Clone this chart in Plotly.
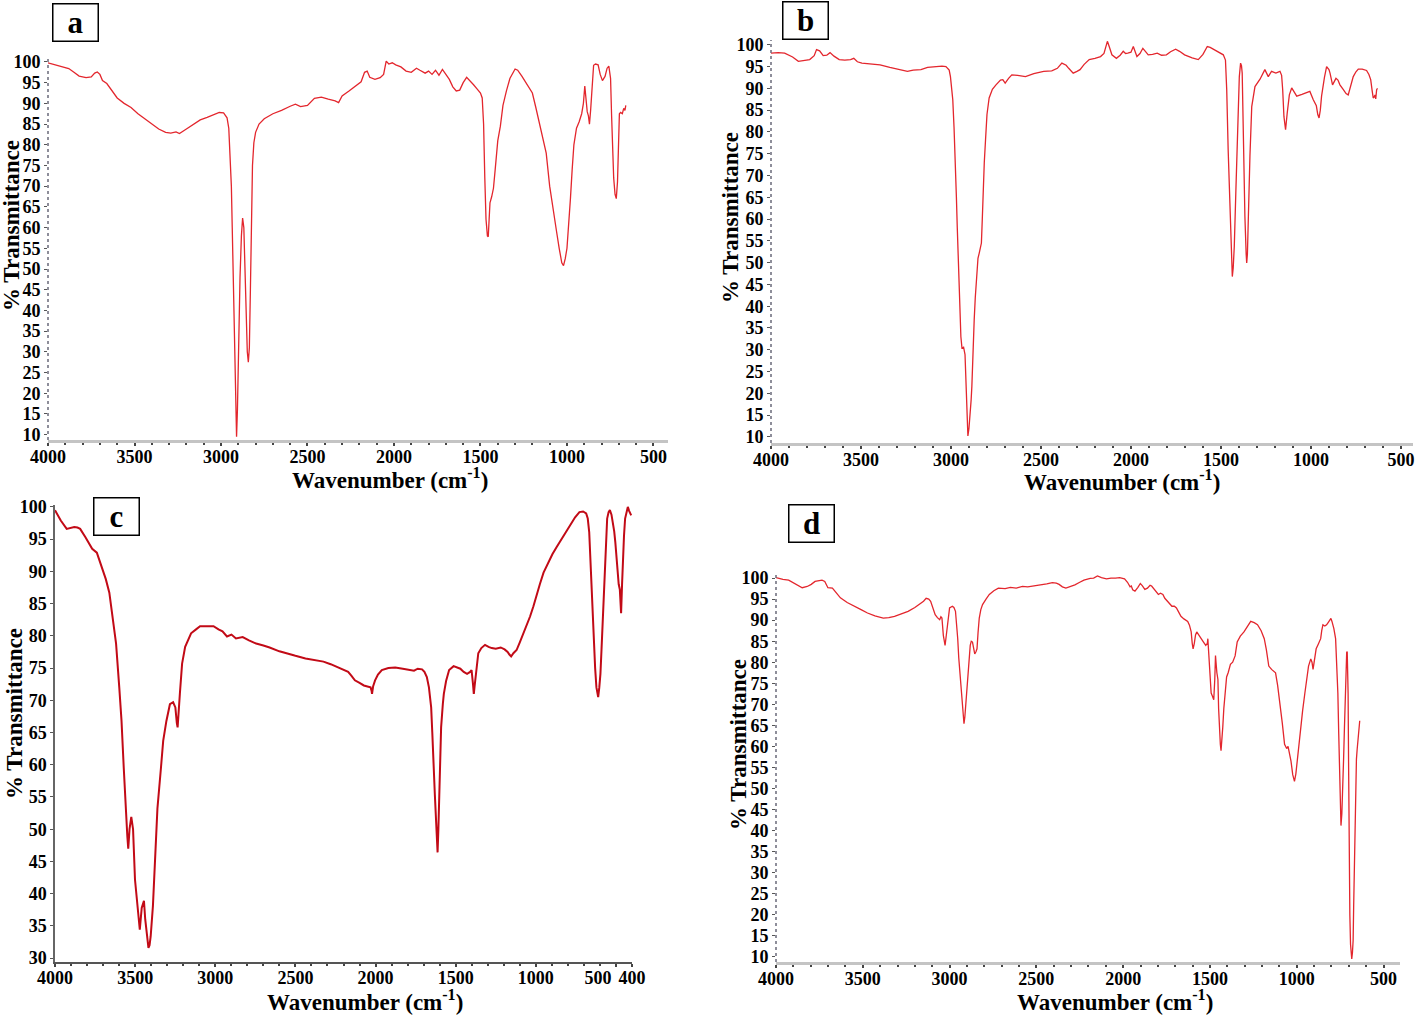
import plotly.graph_objects as go

# FTIR spectra, four samples (a-d): wavenumber (cm-1) vs % transmittance
wn_a = [4000, 3960, 3920, 3880, 3850, 3820, 3780, 3750, 3730, 3715, 3700, 3685, 3660, 3630, 3600,
        3560, 3520, 3480, 3440, 3400, 3360, 3320, 3290, 3260, 3240, 3200, 3160, 3120, 3080, 3040,
        3010, 2985, 2965, 2955, 2948, 2940, 2935, 2930, 2925, 2920, 2915, 2910, 2905, 2900, 2895,
        2890, 2882, 2875, 2868, 2862, 2855, 2848, 2842, 2836, 2830, 2825, 2818, 2810, 2800, 2780,
        2750, 2700, 2650, 2600, 2570, 2540, 2500, 2460, 2420, 2380, 2340, 2320, 2300, 2260, 2220,
        2190, 2170, 2155, 2140, 2110, 2080, 2060, 2045, 2030, 2010, 1990, 1960, 1930, 1900, 1870,
        1850, 1820, 1800, 1780, 1760, 1740, 1720, 1700, 1680, 1660, 1640, 1620, 1600, 1580, 1560,
        1540, 1520, 1500, 1490, 1482, 1475, 1468, 1460, 1455, 1450, 1445, 1435, 1425, 1415, 1400,
        1385, 1370, 1350, 1330, 1300, 1285, 1260, 1230, 1200, 1180, 1160, 1140, 1120, 1100, 1080,
        1060, 1045, 1030, 1020, 1010, 1000, 990, 980, 970, 960, 945, 930, 915, 905, 897,
        890, 883, 876, 870, 863, 855, 846, 835, 820, 808, 795, 780, 768, 758, 748,
        742, 736, 730, 722, 715, 708, 702, 697, 690, 680, 672, 665, 660]
t_a = [99.8, 99.3, 98.8, 98.4, 97.5, 96.6, 96.2, 96.4, 97.3, 97.6, 97.0, 95.5, 94.8, 93.0, 91.3,
       90.0, 89.0, 87.5, 86.2, 85.0, 83.8, 83.0, 82.8, 83.1, 82.7, 83.8, 85.0, 86.0, 86.6, 87.3,
       87.8, 87.7, 86.5, 84, 78, 70, 60, 50, 40, 28, 16, 9.5, 16, 30, 40,
       48, 58, 62.3, 60, 50, 38, 30, 27.5, 31, 45, 62, 75, 80.5, 83, 85,
       86.3, 87.5, 88.3, 89.3, 89.8, 89.2, 89.5, 91.2, 91.5, 91, 90.6, 90.2, 91.8, 93, 94.3,
       95.2, 97.5, 97.8, 96.3, 95.8, 96.2, 97, 100.2, 99.5, 99.8, 99.3, 98.8, 97.8, 97.5, 98.5,
       98.0, 97.3, 97.8, 97, 98, 96.8, 98.2, 97.0, 95.8, 94, 93, 93.2, 95, 96.3, 95.5,
       94.5, 93.5, 92.5, 91.3, 85, 72, 62, 58, 57.8, 62, 66, 67.5, 69.5, 74, 81,
       84.5, 89.5, 93, 96, 98.3, 98, 96.5, 94.5, 92.5, 89, 85.5, 82, 78, 70, 64,
       59, 55, 51.5, 50.8, 52.5, 55, 60, 67, 74, 80, 84, 85.5, 87.5, 90, 94.2,
       91, 88, 87, 85, 88.5, 94, 99.2, 99.5, 99.3, 97, 95.5, 96.5, 98.5, 99, 96,
       87, 79, 72, 68, 67, 71, 78, 87.5, 87.8, 87.5, 88.8, 88.3, 89.5]

wn_b = [4000, 3960, 3924, 3880, 3848, 3810, 3785, 3760, 3747, 3730, 3710, 3690, 3672, 3650, 3621,
        3590, 3558, 3540, 3520, 3495, 3450, 3394, 3340, 3293, 3260, 3242, 3210, 3167, 3130, 3091,
        3050, 3028, 3010, 3003, 2995, 2990, 2983, 2977, 2970, 2965, 2960, 2956, 2952, 2945, 2939,
        2930, 2922, 2918, 2914, 2910, 2906, 2900, 2894, 2888, 2884, 2878, 2871, 2865, 2856, 2850,
        2843, 2835, 2831, 2826, 2821, 2815, 2808, 2800, 2788, 2770, 2750, 2725, 2712, 2699, 2680,
        2662, 2630, 2586, 2540, 2485, 2440, 2409, 2384, 2360, 2346, 2321, 2300, 2283, 2260, 2232,
        2200, 2169, 2150, 2144, 2131, 2120, 2106, 2081, 2060, 2043, 2030, 2018, 2000, 1987, 1975,
        1967, 1950, 1934, 1920, 1904, 1880, 1854, 1830, 1803, 1780, 1752, 1730, 1702, 1660, 1626,
        1600, 1576, 1560, 1538, 1510, 1487, 1475, 1468, 1460, 1450, 1441, 1437, 1432, 1426, 1417,
        1409, 1398, 1391, 1386, 1382, 1376, 1367, 1360, 1357, 1353, 1348, 1339, 1329, 1311, 1283,
        1256, 1237, 1219, 1195, 1172, 1163, 1157, 1150, 1141, 1132, 1120, 1107, 1090, 1079, 1050,
        1020, 1006, 987, 970, 962, 955, 948, 941, 925, 913, 900, 894, 880, 870, 861,
        850, 839, 820, 805, 793, 780, 765, 750, 737, 715, 691, 678, 668, 660, 654,
        649, 644, 640, 635, 630]
t_b = [98.1, 98.2, 98.1, 97.2, 96.2, 96.5, 96.6, 97.5, 98.9, 98.6, 97.5, 97.6, 98.2, 97.4, 96.6,
       96.5, 96.6, 96.9, 96.1, 95.8, 95.6, 95.4, 94.8, 94.3, 94.0, 93.9, 94.2, 94.3, 94.8, 95.0,
       95.1, 95.0, 94.2, 92.7, 89.5, 87.4, 81, 75.2, 65.2, 58, 52.2, 46, 40, 33, 30.4,
       30.6, 28.9, 25, 21.6, 15, 10.2, 12, 14.8, 18.5, 21.6, 30, 36.9, 42, 47.6, 51,
       52.2, 54, 54.5, 60, 67.5, 73, 78.2, 84, 87.8, 89.8, 90.8, 91.9, 92.0, 91.2, 92.3,
       93.1, 93.0, 92.7, 93.4, 93.9, 94.0, 94.6, 95.8, 95.3, 94.6, 93.5, 93.9, 94.3, 95.5, 96.6,
       96.9, 97.3, 98.0, 98.9, 100.8, 99.5, 97.7, 96.9, 97.6, 98.5, 98.0, 98.1, 98.3, 99.6, 98.0,
       97.3, 98.0, 99.2, 98.5, 97.7, 97.8, 98.1, 97.6, 97.7, 98.4, 99.0, 98.5, 97.7, 97.0, 96.6,
       97.8, 99.6, 99.4, 98.9, 98.2, 97.7, 96.5, 89.7, 75.9, 61, 48.8, 46.8, 48.8, 53.7, 66.7,
       79, 92.7, 95.8, 95.2, 93.5, 78.2, 60.6, 52, 49.9, 52, 60.6, 74.4, 85.8, 90.4, 92.1,
       94.3, 92.7, 93.9, 93.5, 93.9, 93.0, 89.7, 83.5, 80.5, 84.3, 88.5, 90.1, 88.8, 88.2, 88.6,
       89.0, 89.3, 87.4, 86, 84, 83.2, 85, 88.2, 92.5, 95.0, 94.3, 93.5, 90.8, 91.5, 92.3,
       91.9, 90.8, 89.7, 88.8, 88.5, 90.5, 92.7, 93.8, 94.4, 94.4, 94.1, 93.2, 92, 89.5, 87.8,
       88, 88.5, 87.6, 89.7, 90]

wn_c = [4000, 3964, 3927, 3900, 3880, 3860, 3843, 3810, 3768, 3739, 3711, 3683, 3661, 3641, 3619,
        3599, 3585, 3571, 3557, 3549, 3543, 3535, 3524, 3513, 3501, 3487, 3478, 3471, 3459, 3445,
        3437, 3431, 3423, 3417, 3410, 3403, 3389, 3375, 3361, 3339, 3325, 3305, 3283, 3263, 3249,
        3240, 3235, 3221, 3207, 3188, 3151, 3120, 3095, 3050, 3011, 2980, 2955, 2927, 2899, 2871,
        2829, 2790, 2745, 2700, 2661, 2600, 2550, 2500, 2437, 2380, 2325, 2280, 2241, 2200, 2171,
        2150, 2129, 2100, 2073, 2045, 2031, 2025, 2022, 2015, 2003, 1985, 1961, 1920, 1877, 1830,
        1793, 1760, 1737, 1710, 1695, 1680, 1667, 1660, 1653, 1646, 1639, 1630, 1622, 1617, 1613,
        1608, 1602, 1596, 1591, 1580, 1574, 1560, 1541, 1513, 1490, 1471, 1450, 1429, 1410, 1401,
        1392, 1387, 1382, 1378, 1370, 1359, 1340, 1317, 1295, 1275, 1250, 1219, 1195, 1176, 1165,
        1154, 1140, 1120, 1100, 1078, 1057, 1036, 1015, 994, 975, 952, 925, 896, 870, 840,
        810, 784, 755, 728, 705, 686, 676, 667, 658, 650, 644, 639, 630, 622, 616,
        611, 604, 597, 590, 583, 576, 569, 562, 555, 546, 538, 528, 518, 511, 504,
        497, 490, 483, 476, 472, 468, 462, 457, 450, 443, 435, 426, 418, 412, 405]
t_c = [99.5, 97.9, 96.6, 96.8, 96.9, 96.8, 96.6, 95.3, 93.5, 92.9, 90.9, 88.8, 86.7, 83.0, 78.8,
       72.0, 66.8, 59.5, 51.1, 49, 47.0, 50, 51.9, 50, 42.2, 38.6, 36, 34.4, 37.8, 38.9,
       36, 34.4, 32.5, 31.6, 32, 33.4, 38.1, 45.9, 53.2, 59.5, 63.7, 66.8, 69.4, 69.7, 68.9,
       66.5, 65.8, 71.0, 75.7, 78.3, 80.4, 81.0, 81.5, 81.5, 81.5, 81.0, 80.7, 79.9, 80.2, 79.6,
       79.8, 79.3, 78.8, 78.5, 78.2, 77.6, 77.3, 76.9, 76.5, 76.2, 76.0, 75.6, 75.2, 74.8, 74.4,
       73.8, 73.1, 72.7, 72.3, 72.1, 72.0, 71.5, 71.0, 72.2, 73.1, 74.0, 74.7, 75.0, 75.1, 74.9,
       74.8, 74.6, 74.9, 74.8, 74.4, 73.6, 72.0, 70.5, 68.9, 65, 61.6, 55.3, 51.1, 48.5, 46.4,
       50, 55.3, 61, 65.8, 69.5, 71.0, 73, 74.7, 75.3, 75.1, 74.9, 74.4, 74.1, 74.4, 74.7,
       72.5, 71.0, 72.2, 73.1, 75, 77.3, 78.1, 78.6, 78.3, 78.1, 78.0, 78.2, 77.9, 77.5, 77.1,
       76.8, 77.3, 77.8, 79, 80.4, 81.5, 83.0, 84.6, 86.2, 88, 89.8, 91.3, 92.7, 93.8, 95.0,
       96.2, 97.4, 98.4, 99.2, 99.3, 99.0, 98.2, 96.1, 91, 86.7, 82, 78.8, 75, 72.0, 70.8,
       70.5, 72, 74.1, 78, 82.5, 87, 91.9, 95.5, 98.2, 99.2, 99.5, 98.8, 97.6, 96.2, 94.5,
       92, 89.3, 88, 87.2, 85.5, 83.5, 88, 91.9, 95.5, 98.2, 99.2, 100, 99.4, 99, 98.7]

wn_d = [4000, 3992, 3960, 3927, 3890, 3849, 3820, 3797, 3775, 3758, 3735, 3719, 3701, 3675, 3650,
        3629, 3590, 3551, 3510, 3473, 3430, 3382, 3350, 3317, 3280, 3239, 3200, 3174, 3150, 3135,
        3120, 3109, 3095, 3083, 3070, 3057, 3050, 3044, 3036, 3026, 3020, 3013, 3005, 3000, 2984,
        2975, 2966, 2960, 2953, 2947, 2940, 2934, 2927, 2921, 2917, 2912, 2906, 2900, 2896, 2888,
        2881, 2875, 2868, 2862, 2855, 2848, 2842, 2836, 2829, 2820, 2810, 2790, 2771, 2745, 2719,
        2680, 2650, 2616, 2580, 2550, 2512, 2470, 2440, 2408, 2385, 2369, 2350, 2330, 2310, 2278,
        2250, 2226, 2190, 2170, 2148, 2125, 2096, 2070, 2044, 2020, 1992, 1975, 1960, 1953, 1945,
        1932, 1915, 1901, 1890, 1875, 1860, 1845, 1836, 1820, 1810, 1797, 1785, 1771, 1760, 1745,
        1732, 1719, 1705, 1693, 1680, 1667, 1650, 1628, 1618, 1608, 1602, 1597, 1590, 1583, 1576,
        1565, 1550, 1537, 1524, 1515, 1512, 1508, 1504, 1499, 1493, 1486, 1478, 1472, 1468, 1465,
        1460, 1454, 1450, 1446, 1440, 1436, 1431, 1426, 1420, 1413, 1404, 1395, 1382, 1369, 1355,
        1343, 1325, 1304, 1285, 1265, 1245, 1226, 1205, 1187, 1175, 1161, 1145, 1122, 1110, 1096,
        1083, 1070, 1058, 1050, 1044, 1033, 1023, 1017, 1013, 1005, 997, 988, 979, 966, 953,
        942, 932, 919, 912, 906, 898, 888, 876, 862, 856, 849, 838, 828, 818, 810,
        803, 797, 786, 776, 769, 763, 758, 755, 750, 745, 740, 735, 730, 725, 721,
        717, 712, 709, 706, 704, 701, 699, 694, 690, 686, 683, 679, 675, 672, 668,
        664, 660, 656, 652, 647, 642, 637]
t_d = [100.1, 100, 99.7, 99.5, 98.7, 97.7, 98.0, 98.5, 99.2, 99.4, 99.5, 99.2, 97.7, 97.6, 96.2,
       95.3, 94.2, 93.3, 92.5, 91.7, 91.0, 90.5, 90.6, 90.9, 91.4, 92.1, 93.0, 93.7, 94.5, 95.2,
       95.0, 94.5, 92.8, 91.3, 90.6, 90.1, 90.8, 90.5, 86.4, 84.0, 86, 88.9, 91.5, 92.9, 93.3,
       93.0, 92.1, 89.5, 85.6, 81, 77.5, 73, 69.4, 67, 65.4, 67, 70.2, 74, 77.5, 81.5,
       84.0, 85, 84.8, 83.5, 82.0, 82.5, 83.2, 87, 90.5, 92.5, 93.7, 95, 96.1, 97, 97.6,
       97.5, 97.8, 97.6, 98, 97.9, 98.1, 98.3, 98.6, 98.9, 98.8, 98.5, 97.9, 97.6, 97.9, 98.4,
       99.0, 99.5, 99.9, 100.0, 100.5, 100.1, 99.8, 100.0, 100.0, 100.1, 99.8, 99.0, 97.9, 98.1, 97.2,
       96.9, 97.8, 98.7, 98.2, 97.3, 97.6, 98.3, 98.1, 97.3, 96.6, 96.1, 96.4, 96.1, 95.2, 94.5,
       93.8, 93.3, 93.3, 92.9, 91.9, 90.9, 90.3, 89.7, 88.8, 87.2, 84.5, 83.2, 84.5, 86.5, 87.2,
       86.6, 85.6, 84.8, 84.0, 84.5, 85.6, 83, 79.1, 76, 72.7, 72, 71.1, 76, 81.6, 80,
       77.5, 75.9, 69, 63.0, 60.5, 59.0, 61, 64.6, 69, 73.5, 76.5, 77.5, 79.5, 80.0, 81.5,
       84.8, 86.2, 87.2, 88.5, 89.7, 89.4, 88.9, 87.5, 85.6, 83, 79.1, 78.3, 77.5, 74.5, 70.2,
       65.5, 60.5, 59.5, 60, 58.9, 56.5, 53.3, 52.2, 51.7, 53.5, 56.5, 60.5, 64.6, 68.5, 72.7,
       76, 79.1, 80.8, 80, 78.3, 80.5, 83.2, 84.3, 85.6, 87.5, 88.9, 88.6, 88.9, 89.5, 90.1,
       90.4, 89.7, 88, 85.6, 80, 72.7, 63, 56.5, 48, 41.2, 44, 49.3, 57, 64.6, 72,
       80.8, 82.5, 82.4, 78, 72.7, 55, 31.5, 20, 13, 10, 9.5, 11, 13.9, 22, 33.4,
       45, 54.4, 57, 59.2, 62, 65.6, 66.1]

panel_labels = ["a", "b", "c", "d"]
x_title = "<b>Wavenumber (cm<sup>-1</sup>)</b>"
y_title = "<b>% Transmittance</b>"

W, H = 1417, 1022
SERIF = "Liberation Serif, Times New Roman, serif"


def px(x):
    return x / W


def py(y):
    return 1 - y / H


fig = go.Figure()

# (axis suffix, x data, y data, colour, width)
series = [
    ("", wn_a, t_a, "#e3262d", 1.3),
    ("2", wn_b, t_b, "#e3262d", 1.3),
    ("3", wn_c, t_c, "#c20a16", 2.0),
    ("4", wn_d, t_d, "#e3262d", 1.3),
]
for n, xs, ys, col, lw in series:
    fig.add_trace(go.Scatter(x=xs, y=ys, mode="lines", line=dict(color=col, width=lw),
                             xaxis="x" + n, yaxis="y" + n, showlegend=False))

# pixel boxes of each plot area: left, right, top, bottom
boxes = [(48, 668, 57, 440), (771, 1413, 40, 443), (55, 632, 505, 962), (776, 1400, 573, 962)]
xranges = [[4000, 416], [4000, 433], [4000, 400], [4000, 405]]
yranges = [[8.7, 101.2], [8.6, 101.1], [29.4, 100.3], [8.8, 101.2]]

tick_font = dict(family=SERIF, size=18, color="black", weight="bold")
layout = {}
for i, (l, r, t, b) in enumerate(boxes):
    n = "" if i == 0 else str(i + 1)
    is_c = i == 2
    xa = dict(domain=[px(l), px(r)], range=xranges[i], anchor="y" + n, automargin=False,
              showline=True, linecolor="#555" if is_c else "#c4c4c4", linewidth=1.5 if is_c else 2.5,
              ticks="outside", ticklen=3, tickcolor="#444", tickwidth=1.5,
              tickfont=tick_font, tickangle=0, showgrid=False, zeroline=False,
              minor=dict(ticks="outside", ticklen=2, tickcolor="#444", dtick=100, tick0=0),
              ticklabelstandoff=-4)
    if is_c:
        xa.update(tickmode="array",
                  tickvals=[4000, 3500, 3000, 2500, 2000, 1500, 1000, 500, 400],
                  ticktext=["4000", "3500", "3000", "2500", "2000", "1500", "1000",
                            "500" + "\u00a0" * 8, "400"])
    else:
        xa.update(tickmode="linear", tick0=0, dtick=500)
    ya = dict(domain=[py(b), py(t)], range=yranges[i], anchor="x" + n, automargin=False,
              showline=is_c, linecolor="#666", linewidth=1.5,
              ticks="outside", ticklen=3, tickcolor="#555", tickwidth=1,
              tickmode="linear", tick0=0, dtick=5, tickfont=tick_font,
              showgrid=False, zeroline=False, ticklabelstandoff=0)
    layout["xaxis" + n] = xa
    layout["yaxis" + n] = ya

fig.update_layout(**layout)

# dotted vertical axis lines for panels a, b, d
for n in ["", "2", "4"]:
    fig.add_shape(type="line", xref="x" + n + " domain", yref="y" + n + " domain",
                  x0=0, x1=0, y0=0, y1=1, line=dict(color="#6a6a7a", width=1.5, dash="dot"))

# axis titles and panel letters
x_title_pos = [(390, 478), (1122, 480), (365, 1000), (1115, 1000)]
y_title_pos = [(12, 226), (731, 218), (14, 714), (738, 745)]
letter_pos = [(75, 22), (805, 21), (116, 516), (811, 523)]
for i in range(4):
    fig.add_annotation(x=px(x_title_pos[i][0]), y=py(x_title_pos[i][1]), xref="paper", yref="paper",
                       xanchor="center", yanchor="middle",
                       text=x_title, showarrow=False, font=dict(family=SERIF, size=23, color="black"))
    fig.add_annotation(x=px(y_title_pos[i][0]), y=py(y_title_pos[i][1]), xref="paper", yref="paper",
                       xanchor="center", yanchor="middle",
                       text=y_title, textangle=-90, showarrow=False,
                       font=dict(family=SERIF, size=23, color="black"))
    fig.add_annotation(x=px(letter_pos[i][0]), y=py(letter_pos[i][1]), xref="paper", yref="paper",
                       xanchor="center", yanchor="middle",
                       text="<b>" + panel_labels[i] + "</b>", showarrow=False,
                       font=dict(family=SERIF, size=31, color="black"),
                       bordercolor="black", borderwidth=1.5, bgcolor="white",
                       width=42, height=34, align="center")

fig.update_layout(width=W, height=H, margin=dict(l=0, r=0, t=0, b=0),
                  plot_bgcolor="white", paper_bgcolor="white")

# the page's default body margin would shift the figure by 8px
fig.write_html("out.html", config={"displayModeBar": False},
               post_script="document.body.style.margin='0px';")
